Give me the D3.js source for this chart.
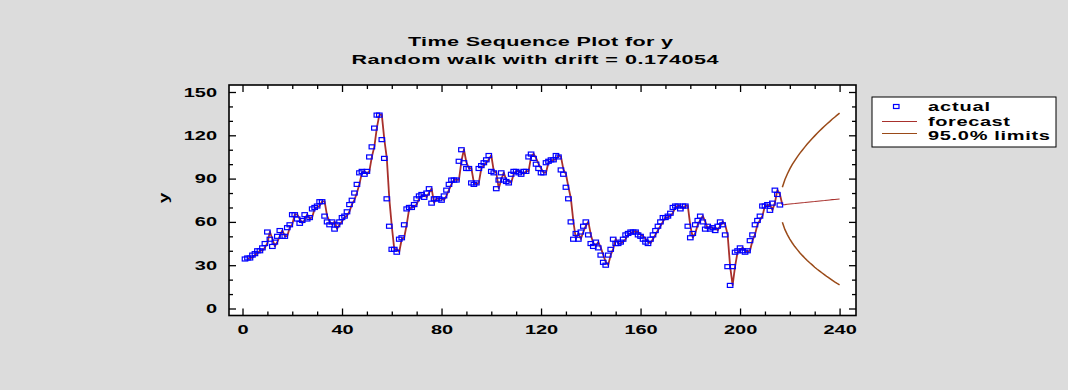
<!DOCTYPE html>
<html>
<head>
<meta charset="utf-8">
<script src="https://cdn.jsdelivr.net/npm/d3@7"></script>
<style>
  body { margin: 0; background: #dcdcdc; }
  svg { display: block; }
  text { font-family: "Liberation Sans", Arial, sans-serif; font-weight: bold; fill: #000; }
</style>
</head>
<body>
<svg id="chart"></svg>
<script>
// observed series, t = 1..216
const actual = [
  34.3, 35, 35, 37, 38, 40, 40, 42, 45, 53,
  48, 43, 46, 50, 54, 50, 50, 56, 58, 65,
  65, 62, 59, 61, 65, 62, 63, 69, 70, 71,
  74, 74, 64, 60, 58, 60, 55, 58, 60, 63,
  64, 67, 72, 75, 80, 86, 94, 95, 93, 95,
  105, 112, 125, 134, 134, 117, 104, 76, 57, 41,
  41, 39, 48, 49, 58, 69, 70, 70, 72, 76,
  78, 79, 77, 80, 83, 73, 76, 76, 76, 75,
  78, 82, 86, 89, 89, 89, 102, 110, 101, 97,
  97, 87, 86, 87, 97, 99, 101, 103, 106, 95,
  94, 83, 89, 94, 89, 88, 87, 93, 95, 95,
  94, 93, 95, 95, 105, 107, 104, 100, 97, 94,
  94, 101, 102, 103, 103, 106, 105, 96, 93, 84,
  76, 60, 48, 52, 48, 53, 57, 60, 51, 45,
  43, 46, 42, 37, 32, 30, 37, 41, 48, 45,
  45, 46, 48, 51, 52, 53, 53, 53, 51, 50,
  48, 46, 45, 48, 51, 54, 57, 60, 63, 63,
  64, 66, 70, 71, 71, 69, 71, 71, 57, 49,
  52, 58, 61, 64, 60, 55, 57, 55, 56, 54,
  57, 60, 58, 51, 29, 16, 29, 39, 40, 42,
  40, 39, 40, 47, 51, 58, 61, 64, 71, 71,
  72, 68, 73, 82, 79, 71.7
];
// forecasts and 95% limits, t = 217..240
const forecastAhead = [
  71.9, 72.0, 72.2, 72.4, 72.6, 72.7, 72.9, 73.1, 73.3, 73.4, 73.6, 73.8,
  74.0, 74.1, 74.3, 74.5, 74.7, 74.8, 75.0, 75.2, 75.4, 75.5, 75.7, 75.9
];
const upperLimits = [
  84.0, 89.2, 93.2, 96.7, 99.8, 102.5, 105.1, 107.5, 109.7, 111.8, 113.9, 115.9,
  117.8, 119.6, 121.4, 123.1, 124.8, 126.4, 128.0, 129.5, 131.1, 132.5, 134.0, 135.4
];
const lowerLimits = [
  59.7, 54.8, 51.2, 48.1, 45.4, 42.9, 40.8, 38.7, 36.8, 35.0, 33.3, 31.7,
  30.2, 28.6, 27.2, 25.9, 24.6, 23.3, 22.0, 20.9, 19.7, 18.5, 17.4, 16.4
];
const drift = 0.174054;
const xTickValues = [0, 40, 80, 120, 160, 200, 240];
const yTickValues = [0, 30, 60, 90, 120, 150];
const titleLines = ['Time Sequence Plot for y', 'Random walk with drift = 0.174054'];
const legendLabels = ['actual', 'forecast', '95.0% limits'];

const svgWidth = 1068, svgHeight = 390;
const margin = { top: 85, right: 212, bottom: 74.5, left: 229 };
const width = svgWidth - margin.left - margin.right;
const height = svgHeight - margin.top - margin.bottom;
const stretch = 1.6;   // the original picture is wider than tall
const lineColor = '#a8302c';
const limitColor = '#9a4a18';

const svg = d3.select('#chart').attr('width', svgWidth).attr('height', svgHeight);
svg.append('rect').attr('width', svgWidth).attr('height', svgHeight).attr('fill', '#dcdcdc');

const g = svg.append('g').attr('transform', 'translate(' + margin.left + ',' + margin.top + ')');

const x = d3.scaleLinear().domain([-5.43, 246.6]).range([0, width]);
const y = d3.scaleLinear().domain([-4.85, 154.85]).range([height, 0]);

g.append('rect').attr('width', width).attr('height', height).attr('fill', '#fff');

// axes, ticks point inwards on every side
const xMinor = d3.range(0, 241, 10).filter(d => d % 40);
const yMinor = d3.range(0, 151, 10).filter(d => d % 30);

function addAxis(axis, transform) {
  const a = g.append('g').attr('transform', transform).call(axis);
  a.select('.domain').remove();
  a.selectAll('line').attr('stroke', '#000').attr('stroke-width', 1.3);
  return a;
}

const bottom = addAxis(d3.axisBottom(x).tickValues(xTickValues).tickSizeInner(-7).tickSizeOuter(0).tickPadding(10), 'translate(0,' + height + ')');
addAxis(d3.axisBottom(x).tickValues(xMinor).tickSizeInner(-4).tickSizeOuter(0).tickFormat(''), 'translate(0,' + height + ')');
addAxis(d3.axisTop(x).tickValues(xTickValues).tickSizeInner(-7).tickSizeOuter(0).tickFormat(''), 'translate(0,0)');
addAxis(d3.axisTop(x).tickValues(xMinor).tickSizeInner(-4).tickSizeOuter(0).tickFormat(''), 'translate(0,0)');
const left = addAxis(d3.axisLeft(y).tickValues(yTickValues).tickSizeInner(-7).tickSizeOuter(0).tickPadding(7.5), 'translate(0,0)');
addAxis(d3.axisLeft(y).tickValues(yMinor).tickSizeInner(-4).tickSizeOuter(0).tickFormat(''), 'translate(0,0)');
addAxis(d3.axisRight(y).tickValues(yTickValues).tickSizeInner(-7).tickSizeOuter(0).tickFormat(''), 'translate(' + width + ',0)');
addAxis(d3.axisRight(y).tickValues(yMinor).tickSizeInner(-4).tickSizeOuter(0).tickFormat(''), 'translate(' + width + ',0)');

[bottom, left].forEach(a => {
  a.attr('font-family', null).attr('font-size', null);
  a.selectAll('text')
    .style('font-size', '12.5px')
    .attr('transform', 'scale(' + stretch + ',1)');
});

g.append('rect')
  .attr('width', width).attr('height', height)
  .attr('fill', 'none').attr('stroke', '#000').attr('stroke-width', 1.6);

// y axis title
svg.append('text')
  .attr('transform', 'translate(168,198) rotate(-90) scale(' + stretch + ',1)')
  .attr('text-anchor', 'middle')
  .style('font-size', '12px')
  .text('y');

// one-step-ahead forecasts inside the data, then the forecasts past the end
const fitted = actual.slice(0, -1).map((v, i) => [i + 2, v + drift]);
const ahead = forecastAhead.map((v, i) => [actual.length + 1 + i, v]);
const line = d3.line().x(d => x(d[0])).y(d => y(d[1]));

g.append('path')
  .datum(fitted.concat(ahead.slice(0, 1)))
  .attr('fill', 'none').attr('stroke', lineColor)
  .attr('stroke-width', 1.8).attr('stroke-linejoin', 'round')
  .attr('d', line);

g.append('path')
  .datum(ahead)
  .attr('fill', 'none').attr('stroke', lineColor)
  .attr('stroke-width', 1.1)
  .attr('d', line);

[upperLimits, lowerLimits].forEach(lims => {
  g.append('path')
    .datum(lims.map((v, i) => [actual.length + 1 + i, v]))
    .attr('fill', 'none').attr('stroke', limitColor)
    .attr('stroke-width', 1.5)
    .attr('d', line);
});

g.append('g').selectAll('rect')
  .data(actual.map((v, i) => [i + 1, v]))
  .join('rect')
  .attr('x', d => x(d[0]) - 2.75)
  .attr('y', d => y(d[1]) - 2)
  .attr('width', 5.5).attr('height', 4)
  .attr('fill', 'none').attr('stroke', '#0000ff').attr('stroke-width', 1.2);

// stretched bold text, like the source picture
function wideText(parent, str, px, py, w, size, anchor) {
  return parent.append('text')
    .attr('transform', 'translate(' + px + ',' + py + ') scale(' + stretch + ',1)')
    .attr('text-anchor', anchor)
    .attr('textLength', w / stretch)
    .attr('lengthAdjust', 'spacing')
    .style('font-size', size + 'px')
    .text(str);
}

wideText(svg, titleLines[0], 540.5, 46, 265, 13.5, 'middle');
wideText(svg, titleLines[1], 535, 64, 367, 13.5, 'middle');

// legend
const lg = svg.append('g');
lg.append('rect')
  .attr('x', 872).attr('y', 97).attr('width', 184).attr('height', 50)
  .attr('fill', '#fff').attr('stroke', '#000').attr('stroke-width', 1);
lg.append('rect')
  .attr('x', 893.5).attr('y', 104.5).attr('width', 5.5).attr('height', 4)
  .attr('fill', 'none').attr('stroke', '#0000ff').attr('stroke-width', 1.2);
lg.append('line').attr('x1', 882).attr('x2', 917).attr('y1', 121.5).attr('y2', 121.5)
  .attr('stroke', lineColor).attr('stroke-width', 1);
lg.append('line').attr('x1', 882).attr('x2', 917).attr('y1', 133.5).attr('y2', 133.5)
  .attr('stroke', limitColor).attr('stroke-width', 1.2);
wideText(lg, legendLabels[0], 928, 111, 62, 12.5, 'start');
wideText(lg, legendLabels[1], 928, 126, 82, 12.5, 'start');
wideText(lg, legendLabels[2], 928, 140, 122, 12.5, 'start');
</script>
</body>
</html>
